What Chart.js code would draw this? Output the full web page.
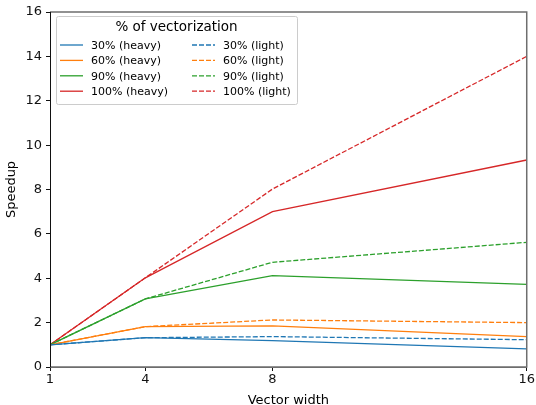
<!DOCTYPE html>
<html>
<head>
<meta charset="utf-8">
<script src="https://cdn.jsdelivr.net/npm/chart.js@4.4.1/dist/chart.umd.min.js"></script>
<style>
  html, body { margin: 0; padding: 0; background: #fff; }
  #wrap { width: 536px; height: 405px; }
</style>
</head>
<body>
<div id="wrap"><canvas id="chart" width="536" height="405"></canvas></div>
<script>
const widths = [1, 4, 8, 16];
const xTicks = [1, 4, 8, 16];
const yTicks = [0, 2, 4, 6, 8, 10, 12, 14, 16];

const heavy30 = [1, 1.32, 1.19, 0.82];
const heavy60 = [1, 1.82, 1.85, 1.37];
const heavy90 = [1, 3.07, 4.12, 3.72];
const heavy100 = [1, 4.02, 7.0, 9.33];
const light30 = [1, 1.32, 1.37, 1.23];
const light60 = [1, 1.82, 2.12, 2.0];
const light90 = [1, 3.07, 4.72, 5.62];
const light100 = [1, 4.02, 8.02, 14.0];

const labels = ['30% (heavy)', '60% (heavy)', '90% (heavy)', '100% (heavy)',
                '30% (light)', '60% (light)', '90% (light)', '100% (light)'];
const series = [heavy30, heavy60, heavy90, heavy100, light30, light60, light90, light100];
const colors = ['#1f77b4', '#ff7f0e', '#2ca02c', '#d62728'];

const font = "'DejaVu Sans', sans-serif";

const datasets = series.map((vals, i) => ({
  label: labels[i],
  data: vals.map((v, j) => ({ x: widths[j], y: v })),
  borderColor: colors[i % 4],
  borderWidth: 1.3,
  borderDash: i >= 4 ? [5, 2] : [],
  pointRadius: 0,
  fill: false,
  tension: 0
}));

// legend drawn inside the plot, two columns like the original
const insideLegend = {
  id: 'insideLegend',
  afterDraw(chart) {
    const ctx = chart.ctx;
    const a = chart.chartArea;
    const bx = a.left + 6, by = a.top + 4, bw = 241, bh = 88;
    ctx.save();
    ctx.fillStyle = 'rgba(255,255,255,0.8)';
    ctx.strokeStyle = '#cccccc';
    ctx.lineWidth = 1;
    ctx.beginPath();
    ctx.roundRect(bx + 0.5, by + 0.5, bw, bh, 2);
    ctx.fill();
    ctx.stroke();

    ctx.fillStyle = '#000';
    ctx.font = '13.5px ' + font;
    ctx.textAlign = 'center';
    ctx.textBaseline = 'middle';
    ctx.fillText('% of vectorization', bx + bw / 2, by + 11);

    ctx.font = '11px ' + font;
    ctx.textAlign = 'left';
    chart.data.datasets.forEach((ds, i) => {
      const col = Math.floor(i / 4), row = i % 4;
      const lx = bx + 4 + col * 132;
      const ly = by + 29 + row * 15.4;
      ctx.strokeStyle = ds.borderColor;
      ctx.lineWidth = 1.3;
      ctx.setLineDash(ds.borderDash);
      ctx.beginPath();
      ctx.moveTo(lx, ly);
      ctx.lineTo(lx + 23, ly);
      ctx.stroke();
      ctx.setLineDash([]);
      ctx.fillStyle = '#000';
      ctx.fillText(ds.label, lx + 31, ly + 1);
    });
    ctx.restore();
  }
};

// full frame around the plot area
const frame = {
  id: 'frame',
  afterDatasetsDraw(chart) {
    const ctx = chart.ctx;
    const a = chart.chartArea;
    ctx.save();
    ctx.strokeStyle = '#6e6e6e';
    ctx.lineWidth = 1.5;
    ctx.beginPath();
    ctx.moveTo(a.left, a.top);
    ctx.lineTo(a.right, a.top);
    ctx.lineTo(a.right, a.bottom);
    ctx.lineTo(a.left, a.bottom);
    ctx.stroke();
    ctx.strokeStyle = '#111';
    ctx.lineWidth = 1;
    ctx.beginPath();
    ctx.moveTo(a.left + 0.5, a.top);
    ctx.lineTo(a.left + 0.5, a.bottom);
    ctx.stroke();
    ctx.restore();
  }
};

new Chart(document.getElementById('chart').getContext('2d'), {
  type: 'line',
  data: { datasets },
  options: {
    responsive: false,
    animation: false,
    layout: { padding: { top: 12, right: 9, left: 0, bottom: 0 } },
    plugins: { legend: { display: false }, tooltip: { enabled: false } },
    scales: {
      x: {
        type: 'linear',
        min: 1, max: 16,
        afterBuildTicks: s => { s.ticks = xTicks.map(v => ({ value: v })); },
        afterFit: s => { s.height = 38; },
        grid: { drawOnChartArea: false, drawTicks: true, tickLength: 4, color: '#111' },
        border: { display: true, color: '#6e6e6e' },
        ticks: { color: '#111', font: { family: font, size: 13 }, padding: 1, maxRotation: 0 },
        title: { display: true, text: 'Vector width', color: '#000', font: { family: font, size: 13 }, padding: { top: 0, bottom: -3 } }
      },
      y: {
        min: 0, max: 16,
        afterBuildTicks: s => { s.ticks = yTicks.map(v => ({ value: v })); },
        afterFit: s => { s.width = 50; },
        grid: { drawOnChartArea: false, drawTicks: true, tickLength: 4, color: '#111' },
        border: { display: true, color: '#111' },
        ticks: { color: '#111', font: { family: font, size: 13 }, padding: 4 },
        title: { display: true, text: 'Speedup', color: '#000', font: { family: font, size: 13 }, padding: { top: 4, bottom: 0 } }
      }
    }
  },
  plugins: [frame, insideLegend]
});
</script>
</body>
</html>
